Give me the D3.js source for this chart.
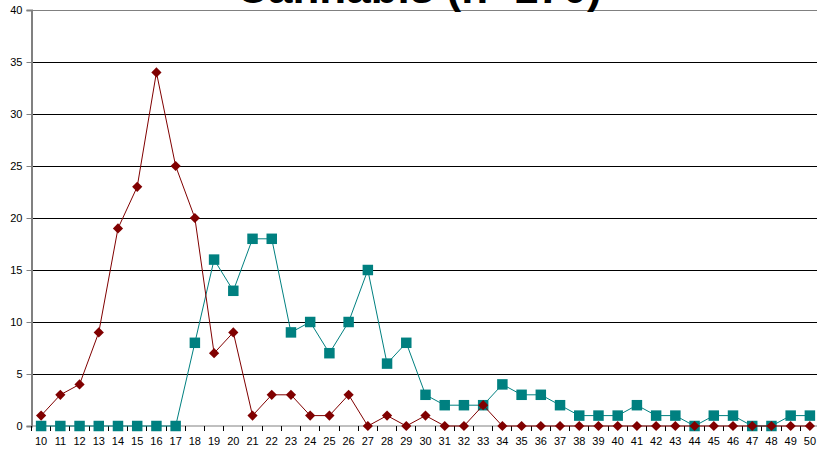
<!DOCTYPE html>
<html><head><meta charset="utf-8">
<script src="https://cdn.jsdelivr.net/npm/d3@7"></script>
<style>body{margin:0;background:#fff;}svg{display:block;}</style>
</head><body>
<script>
const title = "Cannabis (n=170)";
const categories = d3.range(10, 51).map(String);
const seriesRed = [1,3,4,9,19,23,34,25,20,7,9,1,3,3,1,1,3,0,1,0,1,0,0,2,0,0,0,0,0,0,0,0,0,0,0,0,0,0,0,0,0];
const seriesTeal = [0,0,0,0,0,0,0,0,8,16,13,18,18,9,10,7,10,15,6,8,3,2,2,2,4,3,3,2,1,1,1,2,1,1,0,1,1,0,0,1,1];
const yTicks = [0,5,10,15,20,25,30,35,40];

(function () {
const W = 817, H = 450;
const svg = d3.select("body").append("svg").attr("width", W).attr("height", H);
const pLeft = 31.5, pRight = 819.5, pTop = 10, pBottom = 426;
const x = d3.scaleBand().domain(categories).range([pLeft, pRight]);
const y = d3.scaleLinear().domain([0, 40]).range([pBottom, pTop]);
const font = "'Liberation Sans', Arial, sans-serif";

// gridlines
svg.append("g").selectAll("line").data(yTicks.filter(d => d > 0)).join("line")
  .attr("x1", pLeft).attr("x2", W).attr("y1", d => y(d)).attr("y2", d => y(d))
  .attr("stroke", d => d === 40 ? "#808080" : "#000").attr("stroke-width", 1).attr("shape-rendering", "crispEdges");

// y axis
const ya = svg.append("g").attr("transform", `translate(${pLeft},0)`)
  .call(d3.axisLeft(y).tickValues(yTicks).tickSize(5).tickPadding(4));
ya.select(".domain").attr("stroke", "#808080").attr("stroke-width", 2);
ya.selectAll(".tick line").attr("stroke", "#808080");
ya.selectAll("text").attr("font-family", font).attr("font-size", 11).attr("fill", "#000");

// x axis
const xa = svg.append("g").attr("transform", `translate(0,${pBottom})`)
  .call(d3.axisBottom(x).tickSize(0).tickPadding(11));
xa.select(".domain").attr("stroke", "#808080").attr("stroke-width", 1).attr("d", `M${pLeft},0H${W}`);
xa.selectAll("text").attr("font-family", font).attr("font-size", 11).attr("fill", "#000");
svg.append("g").selectAll("line").data(categories).join("line")
  .attr("x1", d => x(d)).attr("x2", d => x(d)).attr("y1", pBottom).attr("y2", pBottom + 5)
  .attr("stroke", "#000").attr("shape-rendering", "crispEdges");

const cx = d => x(d) + x.bandwidth() / 2;
function drawSeries(vals, color, isSquare) {
  const data = categories.map((c, i) => ({c, v: vals[i]}));
  svg.append("path").datum(data)
    .attr("d", d3.line().x(d => cx(d.c)).y(d => y(d.v)))
    .attr("fill", "none").attr("stroke", color).attr("stroke-width", 1);
  const sym = d3.symbol().type(d3.symbolSquare).size(isSquare ? 110 : 52);
  svg.append("g").selectAll("path").data(data).join("path")
    .attr("transform", d => `translate(${cx(d.c)},${y(d.v)})` + (isSquare ? "" : " rotate(45)"))
    .attr("d", sym())
    .attr("fill", color);
}
drawSeries(seriesTeal, "#008080", true);
drawSeries(seriesRed, "#800000", false);

svg.append("text").attr("x", 419).attr("y", 3).attr("text-anchor", "middle")
  .attr("font-family", font).attr("font-weight", "bold").attr("font-size", 44).text(title);
})();
</script>
</body></html>
